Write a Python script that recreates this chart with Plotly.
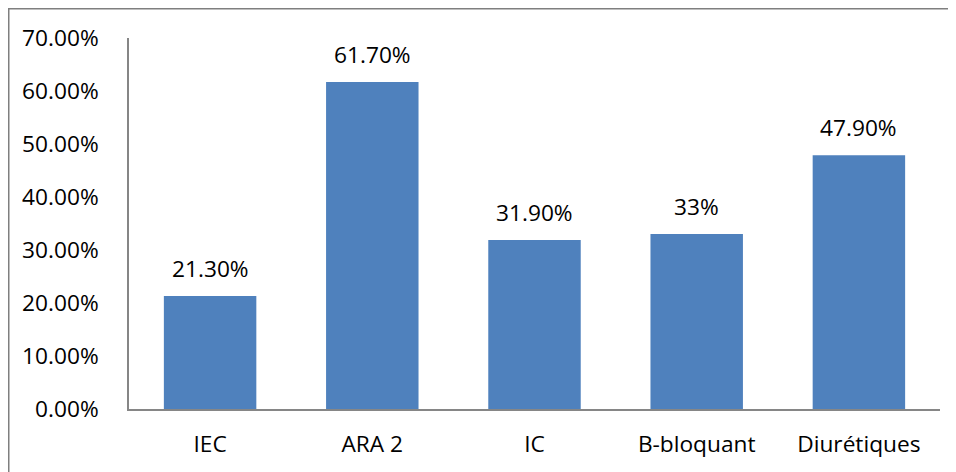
import plotly.graph_objects as go

categories = ["IEC", "ARA 2", "IC", "B-bloquant", "Diurétiques"]
values = [21.3, 61.7, 31.9, 33.0, 47.9]
value_labels = ["21.30%", "61.70%", "31.90%", "33%", "47.90%"]
tick_vals = [0, 10, 20, 30, 40, 50, 60, 70]
tick_text = ["0.00%", "10.00%", "20.00%", "30.00%", "40.00%", "50.00%", "60.00%", "70.00%"]

W, H = 956, 472
# page body has an 8px margin, so figure coords = screenshot coords - 8
L, T = 121, 30
R = W - 932
B = H - 401
pw, ph = W - L - R, H - T - B

font_family = "'Open Sans', 'Noto Sans', sans-serif"
FS = 22.7

fig = go.Figure(go.Bar(
    x=categories, y=values,
    marker=dict(color="#4F81BD", line=dict(width=0)),
    width=0.57,
    hoverinfo="skip",
))

for c, v, lab in zip(categories, values, value_labels):
    fig.add_annotation(x=c, y=v, text=lab, showarrow=False,
                       xref="x", yref="y", yanchor="bottom", yshift=10,
                       font=dict(size=FS, color="#000000", family=font_family))

fig.update_layout(
    width=W, height=H,
    margin=dict(l=L, r=R, t=T, b=B, pad=0),
    paper_bgcolor="white", plot_bgcolor="white",
    showlegend=False,
    font=dict(family=font_family, size=FS, color="#000000"),
    xaxis=dict(showline=True, linecolor="#868686", linewidth=1.5, ticks="",
               showgrid=False, tickfont=dict(size=FS), ticklabelstandoff=14),
    yaxis=dict(range=[0, 70], tickvals=tick_vals, ticktext=tick_text,
               showline=True, linecolor="#868686", linewidth=1.5, ticks="",
               showgrid=False, zeroline=False, tickfont=dict(size=FS),
               ticklabelstandoff=24),
    shapes=[dict(type="rect", xref="paper", yref="paper",
                 x0=(0.5 - L) / pw, x1=(W + 20 - L) / pw,
                 y0=-(H + 20 - (H - B)) / ph, y1=1 + (T - 0.5) / ph,
                 line=dict(color="#7F7F7F", width=2), fillcolor="rgba(0,0,0,0)",
                 layer="above")],
)

fig.write_html("out.html")
